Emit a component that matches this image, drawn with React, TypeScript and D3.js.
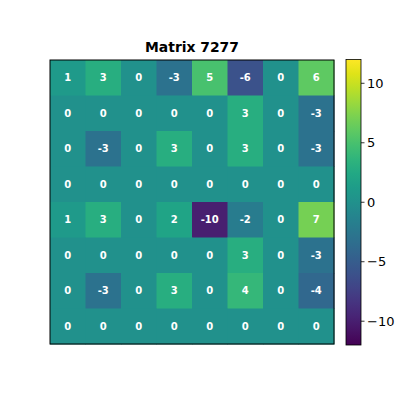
import React from "react";
import * as d3 from "d3";

const rows = [0, 1, 2, 3, 4, 5, 6, 7];
const cols = [0, 1, 2, 3, 4, 5, 6, 7];
const values: number[][] = [
  [1, 3, 0, -3, 5, -6, 0, 6],
  [0, 0, 0, 0, 0, 3, 0, -3],
  [0, -3, 0, 3, 0, 3, 0, -3],
  [0, 0, 0, 0, 0, 0, 0, 0],
  [1, 3, 0, 2, -10, -2, 0, 7],
  [0, 0, 0, 0, 0, 3, 0, -3],
  [0, -3, 0, 3, 0, 4, 0, -4],
  [0, 0, 0, 0, 0, 0, 0, 0],
];
const colorTicks = [-10, -5, 0, 5, 10];
const vmin = -12;
const vmax = 12;
const title = "Matrix 7277";

export default function App() {
  const left = 50, right = 334, top = 60, bottom = 344;
  const x = d3.scaleBand<number>().domain(cols).range([left, right]);
  const y = d3.scaleBand<number>().domain(rows).range([top, bottom]);
  const color = d3.scaleSequential(d3.interpolateViridis).domain([vmin, vmax]);
  const cbX = 346, cbW = 15, cbTop = 59.5, cbBottom = 345;
  const cy = d3.scaleLinear().domain([vmin, vmax]).range([cbBottom, cbTop]);
  const stops = d3.range(0, 1.0001, 0.05);
  const font = "DejaVu Sans, sans-serif";
  return (
    <svg width={400} height={400} style={{ position: "absolute", left: 0, top: 0 }}>
      <rect width={400} height={400} fill="white" />
      <defs>
        <linearGradient id="cb" x1="0" y1="1" x2="0" y2="0">
          {stops.map((s) => (
            <stop key={s} offset={s} stopColor={d3.interpolateViridis(s)} />
          ))}
        </linearGradient>
      </defs>
      <text x={(left + right) / 2} y={52} textAnchor="middle" fontFamily={font} fontWeight="bold" fontSize={13.9}>
        {title}
      </text>
      {rows.map((r) =>
        cols.map((c) => (
          <g key={`${r}-${c}`}>
            <rect x={x(c)} y={y(r)} width={x.bandwidth() + 0.5} height={y.bandwidth() + 0.5} fill={color(values[r][c])} />
            <text
              x={(x(c) as number) + x.bandwidth() / 2}
              y={(y(r) as number) + y.bandwidth() / 2}
              dy="0.35em"
              textAnchor="middle"
              fill="white"
              fontFamily={font}
              fontWeight="bold"
              fontSize={10}
            >
              {values[r][c]}
            </text>
          </g>
        ))
      )}
      <rect x={left} y={top} width={right - left} height={bottom - top} fill="none" stroke="black" strokeWidth={1} />
      <rect x={cbX} y={cbTop} width={cbW} height={cbBottom - cbTop} fill="url(#cb)" stroke="black" strokeWidth={0.8} />
      {colorTicks.map((t) => (
        <g key={t}>
          <line x1={cbX + cbW} x2={cbX + cbW + 3.5} y1={cy(t)} y2={cy(t)} stroke="black" strokeWidth={0.8} />
          <text x={cbX + cbW + 6} y={cy(t)} dy="0.35em" fontFamily={font} fontSize={13}>
            {t < 0 ? "\u2212" + Math.abs(t) : String(t)}
          </text>
        </g>
      ))}
    </svg>
  );
}
